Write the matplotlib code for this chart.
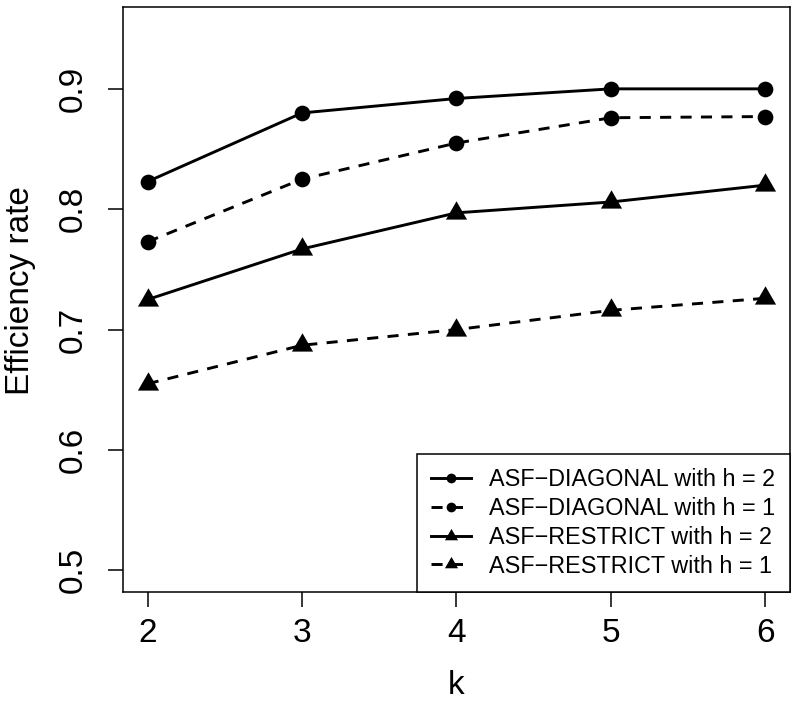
import matplotlib
matplotlib.use("Agg")
import matplotlib.pyplot as plt

plt.rcParams["font.family"] = ["Liberation Sans", "DejaVu Sans"]

k = [2, 3, 4, 5, 6]
diag_h2 = [0.823, 0.880, 0.892, 0.900, 0.900]
diag_h1 = [0.773, 0.825, 0.855, 0.876, 0.877]
restrict_h2 = [0.725, 0.767, 0.797, 0.806, 0.820]
restrict_h1 = [0.655, 0.687, 0.700, 0.716, 0.726]
labels = [
    "ASF\u2212DIAGONAL with h = 2",
    "ASF\u2212DIAGONAL with h = 1",
    "ASF\u2212RESTRICT with h = 2",
    "ASF\u2212RESTRICT with h = 1",
]
yticks = [0.5, 0.6, 0.7, 0.8, 0.9]

# R style filled triangle (pch 17), centred on its centroid
tri = [(0, 1), (-0.866, -0.5), (0.866, -0.5), (0, 1)]
dash = (0, (3.8, 3.2))

fig = plt.figure(figsize=(8.0, 7.07), dpi=100)
ax = fig.add_axes([123 / 800, 115 / 707, 667 / 800, 585 / 707])

series = [
    (diag_h2, "-", "o", 11.3),
    (diag_h1, dash, "o", 11.3),
    (restrict_h2, "-", tri, 17.6),
    (restrict_h1, dash, tri, 17.6),
]
for (values, ls, marker, ms), label in zip(series, labels):
    ax.plot(k, values, color="black", linestyle=ls, linewidth=2.1,
            marker=marker, markersize=ms, markeredgewidth=0, label=label)

ax.set_xlim(1.84, 6.16)
ax.set_ylim(0.482, 0.968)
ax.set_xticks(k)
ax.set_yticks(yticks)
ax.set_yticklabels([f"{v:.1f}" for v in yticks], rotation=90, va="center")
ax.tick_params(axis="both", direction="out", length=11, width=1.1,
               labelsize=24, pad=8)
ax.tick_params(axis="y", pad=14)
for spine in ax.spines.values():
    spine.set_linewidth(1.1)

ax.set_xlabel("k", fontsize=24, va="center")
ax.xaxis.set_label_coords(0.5, -0.16)
ax.set_ylabel("Efficiency rate", fontsize=24, va="center")
ax.yaxis.set_label_coords(-0.153, 0.515)

leg = ax.legend(loc="lower right", borderaxespad=0, fontsize=16.8,
                markerscale=0.62, handlelength=1.7, handletextpad=0.8,
                labelspacing=0.25, borderpad=0.62, fancybox=False,
                framealpha=1, edgecolor="black")
leg.get_frame().set_linewidth(1.1)

fig.savefig("out.png", dpi=100, facecolor="white")
